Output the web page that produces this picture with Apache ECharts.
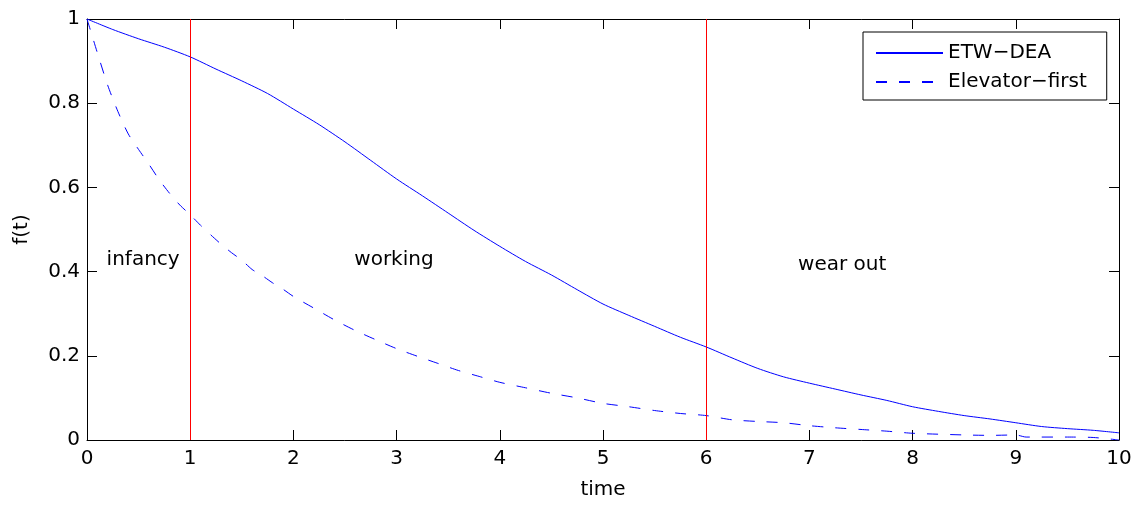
<!DOCTYPE html>
<html>
<head>
<meta charset="utf-8">
<script src="https://cdn.jsdelivr.net/npm/echarts@6/dist/echarts.min.js"></script>
<style>
html,body{margin:0;padding:0;background:#fff;}
#chart{width:1139px;height:505px;}
</style>
</head>
<body>
<div id="chart"></div>
<script>
// ---- data ----
var xTicks = [0,1,2,3,4,5,6,7,8,9,10];
var yTicks = [0,0.2,0.4,0.6,0.8,1];
var seriesNames = ['ETW\u2212DEA', 'Elevator\u2212first'];

var etwX = [0,0.25,0.5,0.75,1.0,1.25,1.5,1.75,2.0,2.25,2.5,2.75,3.0,3.25,3.5,3.75,4.0,4.25,4.5,4.75,5.0,5.25,5.5,5.75,6.0,6.25,6.5,6.75,7.0,7.25,7.5,7.75,8.0,8.25,8.5,8.75,9.0,9.25,9.5,9.75,10.0];
var etwY = [1.0,0.975,0.953,0.933,0.910,0.881,0.853,0.823,0.786,0.749,0.708,0.664,0.620,0.580,0.539,0.498,0.460,0.424,0.392,0.357,0.323,0.296,0.270,0.244,0.221,0.195,0.170,0.150,0.135,0.121,0.107,0.094,0.079,0.068,0.058,0.050,0.041,0.032,0.027,0.023,0.017];

var elevX = [0,0.05,0.1,0.2,0.3,0.4,0.5,0.6,0.7,0.8,0.9,1.0,1.1,1.2,1.3,1.4,1.5,1.6,1.7,1.8,1.9,2.0,2.2,2.4,2.6,2.8,3.0,3.2,3.4,3.6,3.8,4.0,4.25,4.5,4.75,5.0,5.25,5.5,5.75,6.0,6.25,6.5,6.75,7.0,7.25,7.5,7.75,8.0,8.5,8.75,9.0,9.1,9.5,9.75,10.0];
var elevY = [1.0,0.96,0.92,0.843,0.78,0.727,0.69,0.655,0.618,0.586,0.558,0.535,0.51,0.487,0.465,0.445,0.427,0.405,0.39,0.373,0.358,0.341,0.313,0.285,0.26,0.238,0.217,0.199,0.182,0.165,0.151,0.137,0.124,0.111,0.100,0.087,0.079,0.070,0.063,0.058,0.048,0.044,0.041,0.034,0.029,0.025,0.021,0.016,0.012,0.011,0.012,0.007,0.007,0.006,0.0];

var phaseLines = [1, 6];
var phaseLabels = ['infancy', 'working', 'wear out'];
var phaseLabelX = [0.19, 2.59, 6.89];
var phaseLabelY = [0.428, 0.428, 0.416];

// ---- build ----
function zip(xs, ys){ var o=[]; for(var i=0;i<xs.length;i++) o.push([xs[i], ys[i]]); return o; }
var annData = [];
for (var i=0;i<phaseLabels.length;i++) annData.push({value:[phaseLabelX[i], phaseLabelY[i]], name:phaseLabels[i]});

var FONT = 'DejaVu Sans';
var chart = echarts.init(document.getElementById('chart'), null, {renderer:'canvas'});
var axisCommon = {
  type:'value',
  axisLine:{show:true, onZero:false, lineStyle:{color:'#000', width:1}},
  axisTick:{show:true, inside:true, length:10, lineStyle:{color:'#000', width:1}},
  splitLine:{show:false}
};
chart.setOption({
  animation:false,
  backgroundColor:'#fff',
  grid:{left:87, right:20, top:19, bottom:61, containLabel:false},
  xAxis:[
    Object.assign({}, axisCommon, {
      position:'bottom', min:xTicks[0], max:xTicks[xTicks.length-1], interval:1,
      name:'time', nameLocation:'middle', nameGap:40,
      nameTextStyle:{fontFamily:FONT, fontSize:20, color:'#000'},
      axisLabel:{show:true, margin:9, fontFamily:FONT, fontSize:20, color:'#000'}
    }),
    Object.assign({}, axisCommon, {
      position:'top', min:xTicks[0], max:xTicks[xTicks.length-1], interval:1,
      axisLabel:{show:false}
    })
  ],
  yAxis:[
    Object.assign({}, axisCommon, {
      position:'left', min:yTicks[0], max:yTicks[yTicks.length-1], interval:0.2,
      name:'f(t)', nameLocation:'middle', nameGap:55,
      nameTextStyle:{fontFamily:FONT, fontSize:20, color:'#000'},
      axisLabel:{show:true, margin:7, fontFamily:FONT, fontSize:20, color:'#000'}
    }),
    Object.assign({}, axisCommon, {
      position:'right', min:yTicks[0], max:yTicks[yTicks.length-1], interval:0.2,
      axisLabel:{show:false}
    })
  ],
  legend:{
    show:true, orient:'vertical', left:863, top:32,
    data:seriesNames,
    backgroundColor:'#fff', borderColor:'#000', borderWidth:1, borderRadius:0,
    padding:[11, 20, 8, 12],
    itemWidth:67, itemHeight:20, itemGap:9,
    itemStyle:{color:'rgba(0,0,0,0)', borderColor:'rgba(0,0,0,0)', borderWidth:0, opacity:0},
    textStyle:{fontFamily:FONT, fontSize:20, color:'#000', padding:[0,0,0,0]},
    selectedMode:false
  },
  series:[
    {
      name:seriesNames[0], type:'line', data:zip(etwX, etwY),
      symbol:'none', smooth:0.25, clip:true,
      lineStyle:{color:'#0000ff', width:1, type:'solid'},
      itemStyle:{color:'#0000ff'},
      markLine:{
        silent:true, symbol:['none','none'],
        label:{show:false},
        lineStyle:{color:'#ff0000', width:1, type:'solid'},
        data: phaseLines.map(function(v){ return {xAxis:v}; })
      },
      z:3
    },
    {
      name:seriesNames[1], type:'line', data:zip(elevX, elevY),
      symbol:'none', smooth:0.25,
      lineStyle:{color:'#0000ff', width:1, type:[11,12]},
      itemStyle:{color:'#0000ff'},
      z:3
    },
    {
      name:'phases', type:'scatter', data:annData,
      symbolSize:0, silent:true,
      itemStyle:{opacity:1},
      label:{show:true, position:'right', distance:0, formatter:'{b}',
        fontFamily:FONT, fontSize:20, color:'#000', opacity:1},
      z:4
    }
  ]
});
</script>
</body>
</html>
